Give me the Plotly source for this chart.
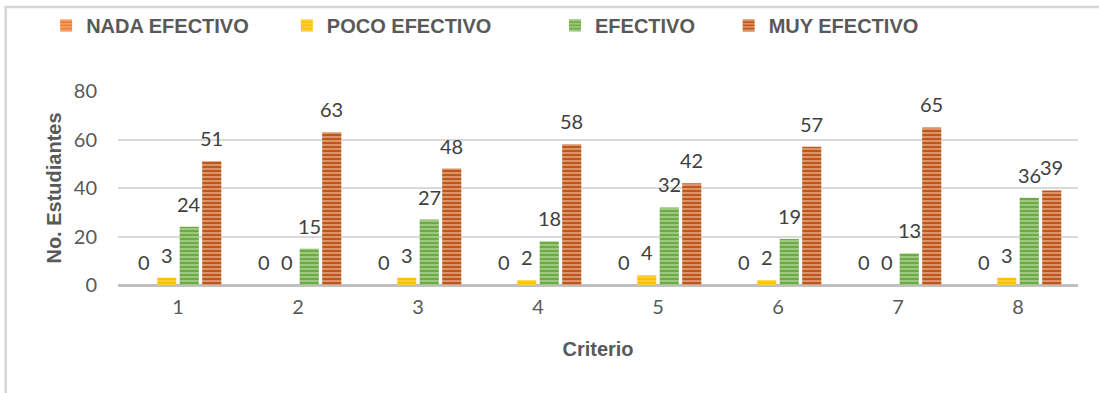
import plotly.graph_objects as go

criterios = ["1", "2", "3", "4", "5", "6", "7", "8"]
nada_efectivo = [0, 0, 0, 0, 0, 0, 0, 0]
poco_efectivo = [3, 0, 3, 2, 4, 2, 0, 3]
efectivo = [24, 15, 27, 18, 32, 19, 13, 36]
muy_efectivo = [51, 63, 48, 58, 42, 57, 65, 39]
y_ticks = [0, 20, 40, 60, 80]

series = [
    ("NADA EFECTIVO", nada_efectivo, "#ED7D31", "#F4A979", "legend", 0.042),
    ("POCO EFECTIVO", poco_efectivo, "#FFC000", "#FFD24D", "legend2", 0.261),
    ("EFECTIVO", efectivo, "#6DA944", "#A9D18E", "legend3", 0.505),
    ("MUY EFECTIVO", muy_efectivo, "#C0561A", "#E2A47C", "legend4", 0.663),
]

WIDTH, HEIGHT = 1099, 393
MARGIN = dict(l=118, r=21, t=91, b=108)
BARGAP = 0.25

fig = go.Figure()
for name, vals, base, light, leg, _ in series:
    fig.add_trace(go.Bar(
        x=criterios, y=vals, name=name, legend=leg,
        marker=dict(
            color=base,
            line=dict(width=0),
            pattern=dict(shape="-", size=4, solidity=0.4,
                         fgcolor=light, bgcolor=base, fillmode="replace"),
        ),
        cliponaxis=False,
    ))

# value labels above each bar, shifted sideways to the bar's slot in its group
cat_px = (WIDTH - MARGIN["l"] - MARGIN["r"]) / len(criterios)
slot_px = cat_px * (1 - BARGAP) / len(series)
annotations = []
for i, (_, vals, _, _, _, _) in enumerate(series):
    shift = (i - (len(series) - 1) / 2) * slot_px
    for j, v in enumerate(vals):
        annotations.append(dict(
            x=j, y=v, xref="x", yref="y", text=str(v), showarrow=False,
            xanchor="center", yanchor="bottom", xshift=shift, yshift=9,
            font=dict(family="Lato", size=20, color="#404040"),
        ))

legend_font = dict(family="Liberation Sans", size=20, color="#595959", weight="bold")
layout_legends = {}
for _, _, _, _, leg, xpos in series:
    layout_legends[leg] = dict(
        x=xpos, y=0.985, xref="container", yref="container",
        xanchor="left", yanchor="top", orientation="h",
        font=legend_font, bgcolor="rgba(0,0,0,0)",
        itemwidth=30, tracegroupgap=0,
    )

fig.update_layout(
    width=WIDTH, height=HEIGHT,
    margin=MARGIN,
    paper_bgcolor="white", plot_bgcolor="white",
    barmode="group", bargap=BARGAP, bargroupgap=0.15,
    showlegend=True,
    **layout_legends,
    annotations=annotations,
    xaxis=dict(
        type="category", range=[-0.5, len(criterios) - 0.5],
        tickfont=dict(family="Lato", size=20, color="#595959"),
        showgrid=False, showline=False, ticks="",
        ticklabelstandoff=8,
        title=dict(text="Criterio", standoff=24,
                   font=dict(family="Liberation Sans", size=20, color="#595959", weight="bold")),
    ),
    yaxis=dict(
        range=[0, 80], tickvals=y_ticks,
        tickfont=dict(family="Lato", size=20, color="#595959"),
        showgrid=True, gridcolor="#D9D9D9", gridwidth=1.5,
        zeroline=True, zerolinecolor="#BFBFBF", zerolinewidth=3,
        showline=False, ticks="", ticklabelstandoff=20,
        title=dict(text="No. Estudiantes", standoff=6,
                   font=dict(family="Liberation Sans", size=20, color="#595959", weight="bold")),
    ),
    shapes=[dict(type="rect", xref="paper", yref="paper",
                 x0=-0.117, x1=1.2, y0=-1.0, y1=1.433,
                 line=dict(color="#D6D6D6", width=2.5), fillcolor="rgba(0,0,0,0)",
                 layer="below")],
)

fig.write_html("out.html")
